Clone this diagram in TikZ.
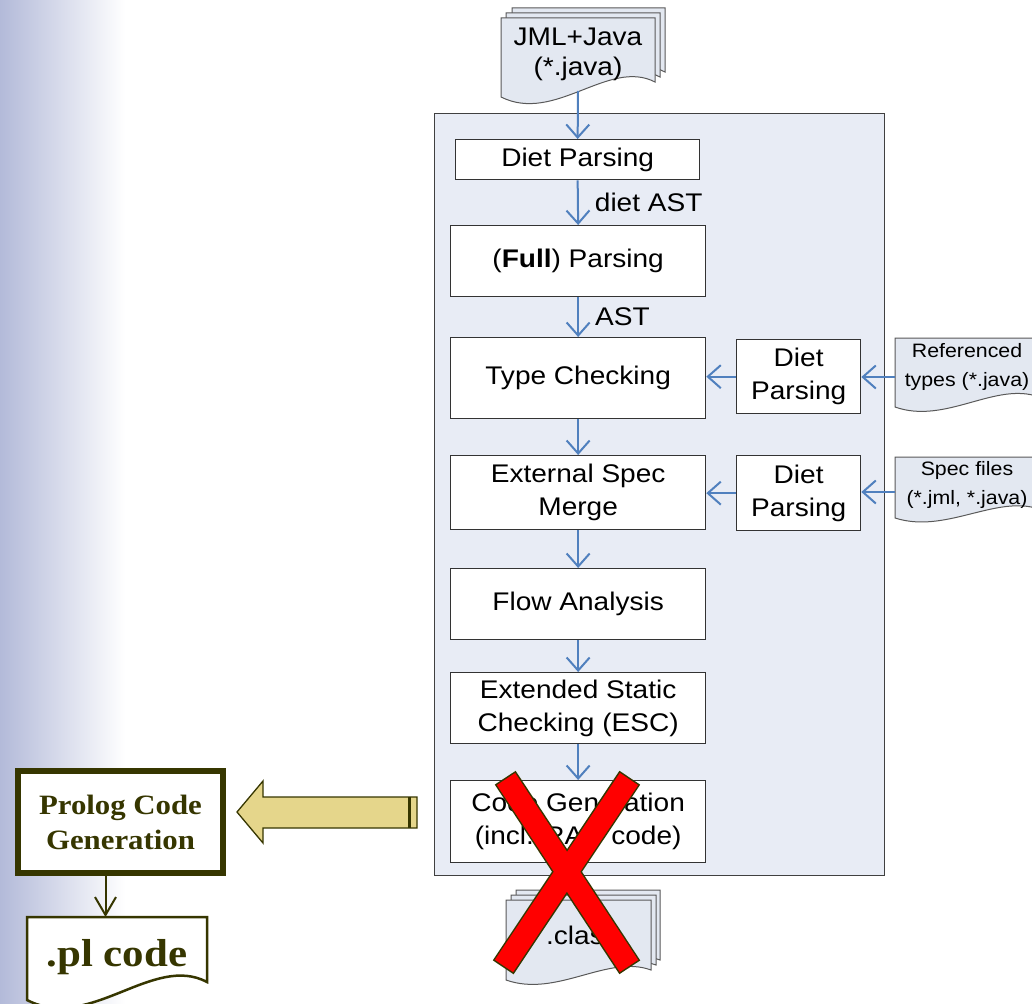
\documentclass[tikz,border=0pt]{standalone}
\usepackage{fontspec}
\setmainfont{Liberation Sans}[FakeStretch=1.1]
\newfontfamily\prologfont{Liberation Serif}[FakeStretch=1.1]
\usepackage{xcolor}
\usetikzlibrary{arrows.meta}
\definecolor{slidebg}{HTML}{B3BAD9}
\definecolor{framefill}{HTML}{E8ECF5}
\definecolor{pagefill}{HTML}{E3E8F1}
\definecolor{flowblue}{HTML}{5080BE}
\definecolor{olivedark}{HTML}{363600}
\definecolor{khaki}{HTML}{E5D68B}
\definecolor{crossred}{HTML}{FF0000}

% document sheet with wavy bottom: [style] x, y, width, height, wave
\newcommand{\docpage}[6][sheet]{%
  \path[#1] (#2,#3) -- (#2+#4,#3) -- (#2+#4,#3+#5-#6)
    .. controls (#2+0.7*#4,#3+#5-2.6*#6) and (#2+0.35*#4,#3+#5+1.8*#6) .. (#2,#3+#5) -- cycle;}

\begin{document}
\begin{tikzpicture}[
  x=1pt, y=-1pt,
  box/.style={draw=black!80, line width=1.3pt, fill=white, anchor=north west, inner sep=0pt,
    align=center, font=\fontsize{25.5}{33}\selectfont},
  sheet/.style={draw=black!65, line width=1pt, fill=pagefill},
  doctext/.style={align=center, font=\fontsize{25.5}{30}\selectfont},
  smalltext/.style={align=center, font=\fontsize{19.4}{29}\selectfont},
  flow/.style={draw=flowblue, line width=2pt, -{Straight Barb[length=13pt, width=23pt]}},
  olivearr/.style={draw=olivedark, line width=2pt, -{Straight Barb[length=18pt, width=21pt]}}
]
\useasboundingbox (0,0) rectangle (1032,1003);
\clip (0,0) rectangle (1032,1003);
\shade[left color=slidebg, right color=white] (0,0) rectangle (125,1003);

% compiler frame
\node[draw=black!75, line width=1.2pt, fill=framefill, minimum width=450pt, minimum height=762pt,
  anchor=north west, inner sep=0pt] (frame) at (434,113) {};

% input files
\docpage{512}{8}{153}{79}{15}
\docpage{506}{13}{154}{79}{15}
\docpage{501}{18}{154}{79}{15}
\node[doctext] (jml) at (578,54) {JML+Java\\(*.java)};
\coordinate (jmlout) at (578,91);

% compiler passes
\node[box, minimum width=244pt, minimum height=40pt] (diet) at (455,139) {Diet Parsing};
\node[box, minimum width=255pt, minimum height=71pt] (full) at (450,225) {(\textbf{Full}) Parsing};
\node[box, minimum width=255pt, minimum height=81pt] (type) at (450,337) {Type Checking};
\node[box, minimum width=255pt, minimum height=74pt] (merge) at (450,455) {External Spec\\Merge};
\node[box, minimum width=255pt, minimum height=71pt] (flowan) at (450,568) {Flow Analysis};
\node[box, minimum width=255pt, minimum height=71pt] (esc) at (450,672) {Extended Static\\Checking (ESC)};
\node[box, minimum width=255pt, minimum height=82pt] (codegen) at (450,780) {Code Generation\\(incl. RAC code)};

\node[box, minimum width=124pt, minimum height=74pt] (dietref) at (736,339) {Diet\\Parsing};
\node[box, minimum width=124pt, minimum height=75pt] (dietspec) at (736,455) {Diet\\Parsing};

\draw[flow] (jmlout) -- (diet.north);
\draw[flow] (diet.south) -- node[right=16pt, inner sep=0pt, font=\fontsize{25.5}{30}\selectfont] {diet AST} (full.north);
\draw[flow] (full.south) -- node[right=16pt, inner sep=0pt, font=\fontsize{25.5}{30}\selectfont] {AST} (type.north);
\draw[flow] (type.south) -- (merge.north);
\draw[flow] (merge.south) -- (flowan.north);
\draw[flow] (flowan.south) -- (esc.north);
\draw[flow] (esc.south) -- (codegen.north);

% side inputs
\docpage{895}{338}{144}{69}{10}
\node[smalltext] (reftext) at (967,367) {Referenced\\types (*.java)};
\coordinate (refin) at (895,377);
\docpage{895}{457}{144}{61}{9}
\node[smalltext] (spectext) at (967,485) {Spec files\\(*.jml, *.java)};
\coordinate (specin) at (895,492);

\draw[flow] (refin) -- (refin -| dietref.east);
\draw[flow] (dietref.west) -- (dietref.west -| type.east);
\draw[flow] (specin) -- (specin -| dietspec.east);
\draw[flow] (dietspec.west) -- (dietspec.west -| merge.east);

% output files
\docpage{516}{890}{144}{80}{10}
\docpage{511}{895}{145}{80}{10}
\docpage{506}{900}{145}{80}{10}
\node[doctext] (classtext) at (582,935) {.class};

% prolog back end
\node[draw=olivedark, line width=6pt, fill=white, minimum width=205pt, minimum height=102pt,
  anchor=north west, inner sep=0pt, text=olivedark, align=center,
  font=\prologfont\bfseries\fontsize{28}{35}\selectfont] (prolog) at (15,768) {Prolog Code\\Generation};
\docpage[draw=olivedark, line width=2.5pt, fill=white]{27}{917}{180}{83}{18}
\node[text=olivedark, font=\prologfont\bfseries\fontsize{39}{44}\selectfont] (plcode) at (117,957) {.pl code};
\coordinate (plsrc) at ([xshift=-15pt]prolog.south);
\coordinate (plin) at (plsrc |- 0,917);
\draw[olivearr] (plsrc) -- (plin);

\draw[draw=olivedark, line width=1.3pt, fill=khaki]
  (237,812) -- (263,781) -- (263,797) -- (417,797) -- (417,828) -- (263,828) -- (263,843) -- cycle;
\draw[olivedark, line width=3pt] (409,797) -- (409,828);

% crossed out
\draw[olivedark, line width=25pt] (505.2,777.7) -- (629.8,967.3) (629.8,777.7) -- (503.2,967.3);
\draw[crossred, line width=22pt] (506,779) -- (629,966) (629,779) -- (504,966);
\end{tikzpicture}
\end{document}
